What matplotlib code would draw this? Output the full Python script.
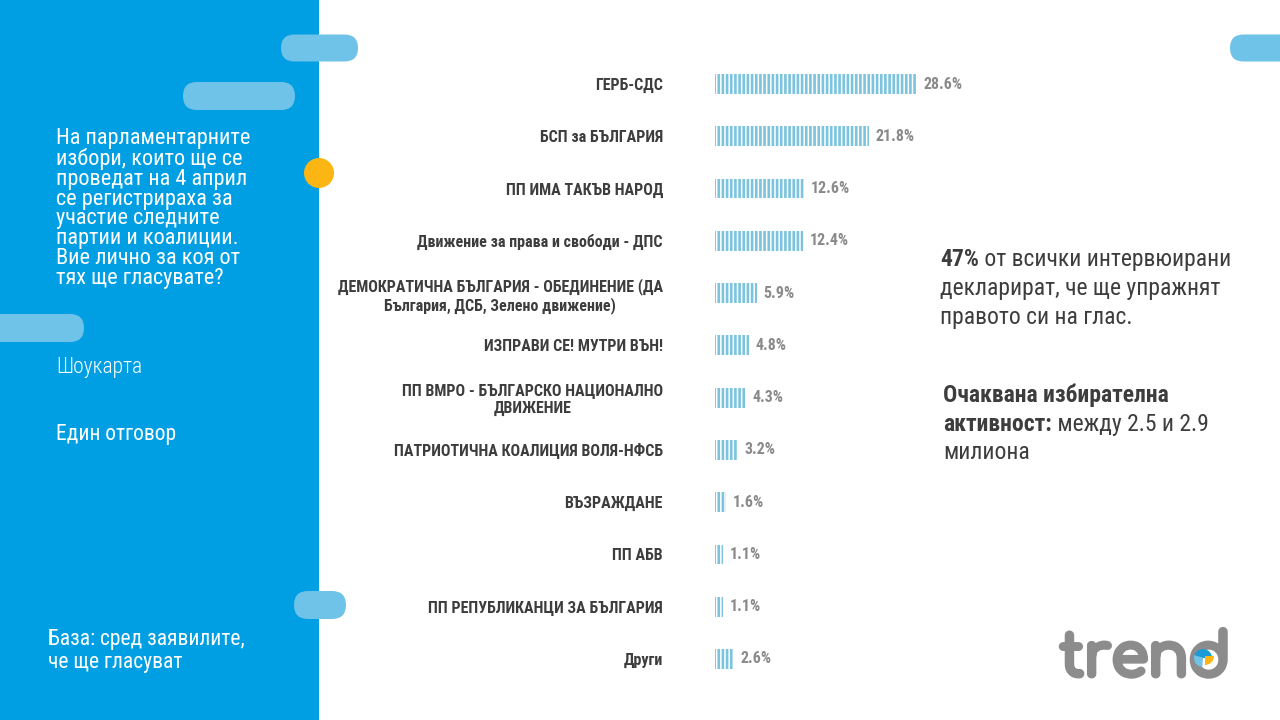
import matplotlib
matplotlib.use('Agg')
import matplotlib.pyplot as plt
import matplotlib.patheffects as pe
from matplotlib.patches import FancyBboxPatch, Circle, Rectangle, Wedge

plt.rcParams['font.family'] = ['Roboto Condensed', 'DejaVu Sans']
plt.rcParams['hatch.linewidth'] = 1.9

parties = [
    "ГЕРБ-СДС",
    "БСП за БЪЛГАРИЯ",
    "ПП ИМА ТАКЪВ НАРОД",
    "Движение за права и свободи - ДПС",
    "ДЕМОКРАТИЧНА БЪЛГАРИЯ - ОБЕДИНЕНИЕ (ДА\nБългария, ДСБ, Зелено движение)",
    "ИЗПРАВИ СЕ! МУТРИ ВЪН!",
    "ПП ВМРО - БЪЛГАРСКО НАЦИОНАЛНО\nДВИЖЕНИЕ",
    "ПАТРИОТИЧНА КОАЛИЦИЯ ВОЛЯ-НФСБ",
    "ВЪЗРАЖДАНЕ",
    "ПП АБВ",
    "ПП РЕПУБЛИКАНЦИ ЗА БЪЛГАРИЯ",
    "Други",
]
shares = [28.6, 21.8, 12.6, 12.4, 5.9, 4.8, 4.3, 3.2, 1.6, 1.1, 1.1, 2.6]

question = ("На парламентарните\nизбори, които ще се\nпроведат на 4 април\nсе регистрираха за\n"
            "участие следните\nпартии и коалиции.\nВие лично за коя от\nтях ще гласувате?")

BLUE = '#009fe3'
PILL = '#6fc2e8'
BAR = '#7cc4de'
DARK = '#3d3d3d'
GREY = '#8a8a8a'

W, H = 1280, 720
fig = plt.figure(figsize=(12.8, 7.2), dpi=100)

# background / decoration layer in pixel coords
bg = fig.add_axes([0, 0, 1, 1])
bg.set_xlim(0, W)
bg.set_ylim(H, 0)
bg.axis('off')

bg.add_patch(Rectangle((0, 0), 319, H, color=BLUE, lw=0))


def pill(x0, x1, yc, h):
    bg.add_patch(FancyBboxPatch((x0, yc - h / 2), x1 - x0, h,
                                boxstyle=f"round,pad=0,rounding_size={h / 2}",
                                fc=PILL, ec='none', zorder=2))


pill(281, 358, 48, 27)
pill(183, 295, 96, 28)
pill(-40, 84, 328, 28)
pill(294, 346, 605, 28)
pill(1230, 1320, 48, 27)
bg.add_patch(Circle((319, 173), 15, fc='#fbb614', ec='none', zorder=3))

# left panel text
bg.text(56, 128, question, color='white', fontsize=16, va='top',
        ha='left', linespacing=0.93, zorder=3)
bg.text(56, 373, "Шоукарта", color='white', fontsize=15.5, weight='light', va='baseline')
bg.text(56, 440, "Един отговор", color='white', fontsize=15.5, va='baseline')
bg.text(48, 645, "База: сред заявилите,", color='white', fontsize=15.5, va='baseline')
bg.text(48, 668, "че ще гласуват", color='white', fontsize=15.5, va='baseline')


def runs(x, y, parts, size=17):
    prev = None
    for txt, wt in parts:
        if prev is None:
            prev = bg.text(x, y, txt, color=DARK, fontsize=size, weight=wt, va='baseline')
        else:
            prev = bg.annotate(txt, xy=(1, 0), xycoords=prev, va='bottom', ha='left',
                               color=DARK, fontsize=size, weight=wt)


runs(940, 266, [("47%", 'bold'), (" от всички интервюирани", 'normal')])
runs(940, 295, [("декларират, че ще упражнят", 'normal')])
runs(940, 324, [("правото си на глас.", 'normal')])
runs(943, 402, [("Очаквана избирателна", 'bold')])
runs(943, 431, [("активност:", 'bold'), (" между 2.5 и 2.9", 'normal')])
runs(943, 459, [("милиона", 'normal')])

# logo
bg.text(1060, 676, "trend", color='#8c8c8c', fontsize=43, weight='bold',
        family=['Comfortaa', 'Quicksand', 'DejaVu Sans'], va='baseline',
        path_effects=[pe.withStroke(linewidth=3.5, foreground='#8c8c8c')])
bg.add_patch(Wedge((1203, 658), 9, 95, 200, fc='#6fc2e8', ec='none', zorder=4))
bg.add_patch(Wedge((1203, 658), 9, 200, 360, fc='#1a9bd7', ec='none', zorder=4))
bg.add_patch(Wedge((1205, 656), 9, 0, 90, fc='#fbb614', ec='none', zorder=4))

# bar chart
ax = fig.add_axes([715 / W, 1 - 685.1 / H, 282.4 / W, 627.2 / H])
ax.patch.set_alpha(0)
ypos = list(range(len(parties)))
ax.barh(ypos, shares, height=0.38, color='white', edgecolor=BAR, linewidth=0,
        hatch='||||')
for y, v in zip(ypos, shares):
    ax.annotate(f"{v}%", xy=(v, y), xytext=(5, 0), textcoords='offset points',
                va='center', ha='left', color=GREY, fontsize=11.5, weight='bold')
ax.set_xlim(0, 40)
ax.set_ylim(len(parties) - 0.5, -0.5)
ax.set_yticks(ypos)
ax.set_yticklabels(parties, fontsize=11.5, weight='bold', color=DARK,
                   multialignment='center', linespacing=1.15)
ax.tick_params(axis='y', length=0, pad=37.5)
ax.set_xticks([])
for s in ax.spines.values():
    s.set_visible(False)

fig.savefig('out.png', dpi=100)
